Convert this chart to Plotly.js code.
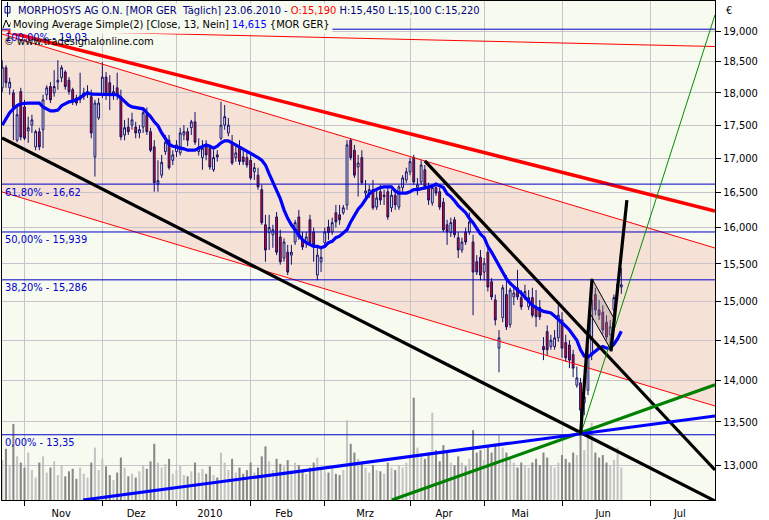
<!DOCTYPE html>
<html><head><meta charset="utf-8">
<script src="https://cdn.plot.ly/plotly-3.0.1.min.js"></script>
<style>html,body{margin:0;padding:0;background:#fff;}#chart{width:769px;height:520px;}</style>
</head><body><div id="chart"></div>
<script>
// ---- data (trading-day index 0 = 02.11.2009) ----
const firstDay = -6, lastDay = 161;
const open = [
18.08,18.40,18.08,18.00,17.27,18.02,
17.78,17.41,17.50,17.17,17.40,17.43,17.97,18.10,18.00,18.17,
18.24,18.33,18.20,18.05,17.92,17.90,17.94,17.97,17.94,17.02,
17.61,17.97,18.25,18.16,17.97,18.08,17.94,17.35,17.47,17.50,
17.47,17.38,17.47,17.66,17.40,17.17,16.62,16.75,17.10,17.27,
16.97,17.10,17.08,17.35,17.40,17.46,17.55,17.10,17.01,17.20,
17.15,16.83,17.05,17.30,17.50,17.38,17.23,17.01,17.15,17.02,
17.01,16.97,16.80,16.75,16.54,16.04,15.93,15.90,16.15,15.87,
15.58,15.66,15.62,15.80,16.15,15.83,15.79,16.11,15.94,15.35,
15.53,15.79,16.01,15.94,16.21,16.18,16.21,16.32,17.27,17.12,
16.87,17.01,16.49,16.49,16.54,16.29,16.51,16.44,16.51,16.28,
16.46,16.29,16.57,16.68,16.80,17.01,16.57,16.65,16.83,16.57,
16.35,16.57,16.51,16.36,16.04,15.93,16.11,15.86,15.69,15.94,
15.94,15.80,15.53,15.59,15.39,15.66,15.26,15.02,14.40,14.79,
15.09,14.70,15.06,15.18,15.05,15.06,14.93,15.05,14.93,14.92,
14.42,14.61,14.42,14.42,14.53,14.76,14.47,14.44,14.32,13.94,
13.97,13.73,13.88,14.31,15.09,14.89,14.86,14.73,14.57,14.89,
15.15,15.19];
const high = [
18.52,18.44,18.24,18.05,17.81,18.08,
17.89,17.63,17.66,17.43,17.46,17.97,18.12,18.17,18.36,18.52,
18.44,18.36,18.25,18.08,17.97,18.32,18.08,18.12,18.05,17.89,
17.92,18.49,18.33,18.28,18.12,18.32,18.05,17.58,17.61,17.69,
17.55,17.50,17.73,17.77,17.46,17.27,16.97,17.05,17.35,17.35,
17.12,17.27,17.46,17.50,17.46,17.58,17.70,17.30,17.27,17.27,
17.20,17.12,17.12,17.86,17.81,17.61,17.35,17.20,17.27,17.12,
17.12,17.05,16.93,16.86,16.61,16.18,16.18,16.04,16.22,15.97,
15.85,15.76,15.76,16.11,16.25,15.94,15.94,16.18,16.00,15.76,
15.73,16.00,16.11,16.14,16.32,16.32,16.32,17.27,17.30,17.20,
17.05,17.12,16.68,16.61,16.68,16.54,16.61,16.54,16.57,16.54,
16.54,16.61,16.75,16.86,17.01,17.05,16.71,16.97,16.90,16.64,
16.61,16.64,16.57,16.42,16.11,16.14,16.15,15.94,15.86,16.00,
16.21,15.90,15.62,15.69,15.58,15.72,15.31,15.09,14.63,15.22,
15.35,15.18,15.18,15.42,15.15,15.22,15.15,15.18,15.15,15.02,
14.54,14.69,14.57,14.63,14.95,14.86,14.57,14.50,14.38,14.17,
14.03,13.94,14.44,15.15,15.18,15.02,14.95,14.82,14.76,15.09,
15.31,15.45];
const low = [
18.01,18.08,17.97,17.27,17.24,17.27,
17.27,17.23,17.38,17.12,17.12,17.15,17.89,17.84,17.94,18.05,
18.17,18.05,17.97,17.81,17.80,17.84,17.89,17.92,17.30,16.73,
17.58,17.92,17.89,17.73,17.89,17.89,17.27,17.27,17.35,17.43,
17.30,17.30,17.38,17.35,17.09,16.51,16.51,16.71,17.05,16.83,
16.90,17.02,17.04,17.27,17.18,17.35,17.20,17.04,16.83,16.97,
16.83,16.80,16.95,17.27,17.43,17.33,16.90,16.95,16.90,16.90,
16.86,16.68,16.68,16.54,16.04,15.53,15.69,15.72,15.62,15.49,
15.53,15.35,15.49,15.76,15.83,15.69,15.72,15.76,15.53,15.28,
15.39,15.73,15.83,15.90,16.00,16.04,16.18,16.25,16.97,16.71,
16.44,16.61,16.42,16.42,16.25,16.25,16.32,16.32,16.11,16.22,
16.25,16.25,16.51,16.64,16.75,16.61,16.46,16.61,16.54,16.32,
16.31,16.45,16.25,15.94,15.76,15.87,15.86,15.58,15.65,15.76,
15.90,14.82,15.35,15.28,15.28,15.13,15.02,14.69,14.10,14.73,
14.63,14.66,14.95,15.02,14.89,15.02,14.89,14.79,14.67,14.76,
14.25,14.31,14.38,14.38,14.48,14.28,14.23,14.15,14.04,13.91,
13.35,13.58,13.82,14.25,14.82,14.76,14.57,14.50,14.44,14.82,
15.02,15.10];
const close = [
18.41,18.16,18.17,17.77,17.66,17.32,
17.30,17.46,17.58,17.40,17.17,17.89,18.08,17.89,18.10,18.20,
18.40,18.10,18.02,17.86,17.84,17.95,18.00,18.02,17.38,17.84,
17.84,18.25,17.97,18.00,18.02,17.97,17.32,17.46,17.40,17.58,
17.38,17.43,17.69,17.40,17.12,16.64,16.67,16.94,17.24,16.86,
17.05,17.20,17.38,17.40,17.27,17.55,17.24,17.17,17.15,17.05,
16.87,17.01,17.02,17.50,17.63,17.50,16.93,17.08,16.95,16.95,
16.90,16.71,16.86,16.58,16.07,15.69,16.00,15.97,15.66,15.53,
15.80,15.39,15.66,16.07,15.87,15.73,15.87,15.79,15.76,15.62,
15.59,15.94,15.93,16.07,16.08,16.11,16.28,17.20,17.01,16.75,
16.93,16.64,16.52,16.54,16.28,16.42,16.39,16.46,16.15,16.46,
16.32,16.58,16.71,16.80,16.95,16.65,16.61,16.90,16.58,16.39,
16.57,16.49,16.29,15.97,15.94,16.07,15.90,15.69,15.80,15.80,
16.08,15.39,15.39,15.35,15.51,15.19,15.06,14.76,14.53,15.18,
14.67,15.15,15.11,15.06,14.93,15.13,15.05,14.82,14.80,14.80,
14.38,14.38,14.50,14.53,14.82,14.40,14.28,14.25,14.15,14.03,
13.64,13.80,14.31,15.02,14.89,14.82,14.63,14.54,14.67,15.05,
15.23,15.22];
const ma13 = [
17.50,17.59,17.69,17.75,17.80,17.83,
17.84,17.84,17.84,17.84,17.84,17.78,17.75,17.72,17.72,17.73,
17.80,17.83,17.86,17.87,17.89,17.92,17.97,18.00,17.98,17.98,
17.98,17.98,17.98,17.98,17.98,17.97,17.92,17.86,17.81,17.78,
17.77,17.77,17.75,17.69,17.63,17.55,17.49,17.38,17.29,17.21,
17.18,17.17,17.15,17.14,17.12,17.12,17.12,17.15,17.17,17.20,
17.18,17.15,17.18,17.23,17.26,17.26,17.23,17.20,17.17,17.14,
17.11,17.08,17.04,17.01,16.97,16.90,16.77,16.64,16.52,16.41,
16.25,16.13,16.04,15.97,15.90,15.83,15.79,15.76,15.74,15.74,
15.72,15.74,15.79,15.81,15.86,15.88,15.93,15.97,16.08,16.18,
16.26,16.32,16.41,16.48,16.52,16.55,16.57,16.58,16.58,16.58,
16.52,16.49,16.49,16.49,16.51,16.54,16.54,16.55,16.57,16.58,
16.59,16.62,16.59,16.57,16.48,16.44,16.38,16.31,16.26,16.21,
16.13,16.07,15.99,15.91,15.86,15.74,15.66,15.57,15.47,15.37,
15.30,15.24,15.19,15.15,15.11,15.06,15.01,14.95,14.92,14.89,
14.87,14.86,14.85,14.81,14.77,14.73,14.68,14.63,14.57,14.50,
14.38,14.30,14.29,14.33,14.37,14.40,14.42,14.40,14.40,14.45,
14.52,14.615];
const volume = [ // thousand shares
320,410,280,610,350,300,
260,380,240,180,300,350,220,260,310,200,
280,190,230,250,170,260,210,180,300,420,
240,330,270,200,160,220,340,260,190,210,
180,230,280,250,310,450,300,260,290,330,
210,240,280,200,190,230,300,220,250,210,
270,200,180,380,300,240,330,220,260,210,
240,300,220,260,350,430,310,240,330,290,
270,320,240,300,280,230,210,260,300,340,
250,230,220,260,210,200,240,640,450,380,
330,300,260,220,280,240,230,210,300,260,
240,280,260,300,350,820,420,360,330,380,
700,400,310,440,380,300,280,350,300,270,
330,560,380,400,320,430,380,450,520,420,
380,330,300,260,300,280,260,300,330,280,
380,340,280,260,300,360,330,300,380,360,
540,400,560,620,380,340,360,300,280,320,
420,260];

// axis ticks
const monthStart = [0,21,41,61,81,104,124,145,169];
const monthLabelPos = [9.9,30.1,50.0,70.0,91.9,113.2,133.7,156.1,176.8];
const monthLabels = ['Nov','Dez','2010','Feb','Mrz','Apr','Mai','Jun','Jul'];
const priceTicks = [13,13.5,14,14.5,15,15.5,16,16.5,17,17.5,18,18.5,19];

// Fibonacci retracement
const fibLevels = [19.03,16.62,15.939,15.286,13.35];
const fibLabels = ['100,00% - 19,03','61,80% - 16,62','50,00% - 15,939','38,20% - 15,286','0,00% - 13,35'];

// drawn objects: [day index], [price]
const xMin = -6.07, xMax = 186.27;
const redTopX = [xMin,xMax], redTopY = [19.017,18.744];
const redThickX = [-4.45,xMax], redThickY = [18.983,16.234];
const chanUpX = [xMin,xMax], chanUpY = [18.950,15.717];
const chanLoX = [xMin,xMax], chanLoY = [16.506,13.690];
const blackLongX = [xMin,xMax], blackLongY = [17.303,12.599];
const blackDownX = [108,xMax], blackDownY = [16.96,12.945];
const poleX = [150,153.1], poleY = [13.35,15.30];
const flagX = [153.1,159.0,158.2,152.5,153.1], flagY = [15.30,14.78,14.38,14.85,15.30];
const breakX = [158.2,162.5], breakY = [14.36,16.39];
const greenThinX = [150,xMax], greenThinY = [13.35,19.27];
const greenThickX = [99.1,xMax], greenThickY = [12.61,13.945];
const blueThickX = [15.78,xMax], blueThickY = [12.61,13.571];

// ---- build ----
const days = []; for (let i = firstDay; i <= lastDay; i++) days.push(i);
const volColors = days.map((d,k) => close[k] >= open[k] ? '#c4c4c4' : '#878787');

const FONT = "'DejaVu Sans Condensed','DejaVu Sans',sans-serif";
const GRID = '#cbc3cb';
const BG = '#f7faef';
const L = 2, R = 715, T = 1, B = 500;
const px = v => (v - L) / (R - L);
const py = v => (B - v) / (B - T);

function line(x, y, color, width, extra) {
  return Object.assign({type:'scatter', mode:'lines', x:x, y:y, xaxis:'x', yaxis:'y2',
    line:{color:color, width:width}, hoverinfo:'skip'}, extra || {});
}

const traces = [
  {type:'bar', x:days, y:volume, xaxis:'x', yaxis:'y', width:0.55,
   marker:{color:volColors, line:{width:0}}, hoverinfo:'skip'},
  {type:'candlestick', x:days, open:open, high:high, low:low, close:close, xaxis:'x', yaxis:'y2',
   increasing:{line:{color:'#10106a', width:1}, fillcolor:'#ffffff'},
   decreasing:{line:{color:'#10106a', width:1}, fillcolor:'#f00000'},
   whiskerwidth:0, hoverinfo:'skip'},
  line(redTopX, redTopY, '#ff0000', 1),
  line(chanUpX, chanUpY, '#ff0000', 1),
  line(chanLoX, chanLoY, '#ff0000', 1),
  line(redThickX, redThickY, '#ff0000', 3.5),
];
fibLevels.forEach(v => traces.push(line([xMin,xMax],[v,v],'#0000c8',1)));
traces.push(
  {type:'scatter', mode:'lines', x:days, y:ma13, xaxis:'x', yaxis:'y2', line:{color:'#0000ff', width:3.2}, hoverinfo:'skip'},
  line(blackLongX, blackLongY, '#000000', 3.2),
  line(blackDownX, blackDownY, '#000000', 3.2),
  line(greenThickX, greenThickY, '#008000', 3.2),
  line(blueThickX, blueThickY, '#0000ff', 3.2),
  line(greenThinX, greenThinY, '#009000', 1),
  line(flagX, flagY, '#000000', 1, {fill:'toself', fillcolor:'rgba(160,140,140,0.35)'}),
  line(poleX, poleY, '#000000', 3.2),
  line(breakX, breakY, '#000000', 3.2)
);

const fmt = v => v.toFixed(3).replace('.', ',');
const n = close.length - 1;
const line1 = 'MORPHOSYS AG O.N. [MOR GER\u00a0\u00a0Täglich] 23.06.2010 - <span style="color:#ff0000">O:' + fmt(open[n]) +
  '</span> H:' + fmt(high[n]) + ' L:' + fmt(low[n]) + ' C:' + fmt(close[n]);
const line2 = 'Moving Average Simple(2) [Close, 13, Nein] <span style="color:#0000ff">' + fmt(ma13[n]) + '</span> {MOR GER}';

const annotations = [
  {xref:'paper', yref:'paper', x:px(17), y:py(10), xanchor:'left', yanchor:'middle', showarrow:false,
   text:line1, font:{family:FONT, size:11, color:'#000080'}, bgcolor:BG, borderpad:0},
  {xref:'paper', yref:'paper', x:px(10), y:py(24), xanchor:'left', yanchor:'middle', showarrow:false,
   text:line2, font:{family:FONT, size:11, color:'#000000'}, bgcolor:BG, borderpad:2},
  {xref:'paper', yref:'paper', x:px(724), y:py(10), xanchor:'left', yanchor:'middle', showarrow:false,
   text:'€', font:{family:FONT, size:11, color:'#000000'}},
];
fibLevels.forEach((v,k) => annotations.push({xref:'paper', yref:'y2', x:px(3), y:Math.log10(v), yshift:-8,
  xanchor:'left', yanchor:'middle', showarrow:false, text:fibLabels[k], font:{family:FONT, size:11, color:'#0000d0'}}));
annotations.push({xref:'paper', yref:'paper', x:px(2), y:py(42), xanchor:'left', yanchor:'middle', showarrow:false,
   text:'© www.tradesignalonline.com', font:{family:FONT, size:11, color:'#000000'}});

const shapes = [
  {type:'path', xref:'x', yref:'y2', layer:'below',
   path:'M' + chanUpX[0] + ',' + chanUpY[0] + ' L' + chanUpX[1] + ',' + chanUpY[1] +
        ' L' + chanLoX[1] + ',' + chanLoY[1] + ' L' + chanLoX[0] + ',' + chanLoY[0] + ' Z',
   fillcolor:'#f6e1d7', line:{width:0}},
  // legend icons
  {type:'line', xref:'paper', yref:'paper', x0:px(7.5), x1:px(7.5), y0:py(2), y1:py(17), line:{color:'#000080', width:1}},
  {type:'rect', xref:'paper', yref:'paper', x0:px(5), x1:px(10), y0:py(6.5), y1:py(13), line:{color:'#000080', width:1}, fillcolor:'rgba(0,0,0,0)'},
  {type:'path', xref:'paper', yref:'paper',
   path:'M'+px(3)+','+py(28)+' L'+px(6)+','+py(20)+' L'+px(9)+','+py(27)+' L'+px(12)+','+py(20),
   line:{color:'#000000', width:1}},
];

const layout = {
  width:769, height:520,
  margin:{l:L, r:769-R, t:T, b:520-B, pad:0},
  paper_bgcolor:'#ffffff', plot_bgcolor:BG,
  separators:',.', showlegend:false, hovermode:false,
  font:{family:FONT, size:11, color:'#000000'},
  xaxis:{type:'linear', range:[xMin,xMax], fixedrange:true, zeroline:false,
    tickmode:'array', tickvals:monthLabelPos, ticktext:monthLabels, ticks:'', showgrid:false,
    ticklabelstandoff:3,
    tickfont:{family:FONT, size:11, color:'#000'},
    minor:{tickmode:'array', tickvals:monthStart, ticks:'outside', ticklen:5, tickcolor:'#000', tickwidth:1,
           showgrid:true, gridcolor:GRID, gridwidth:1},
    showline:true, linecolor:'#000', linewidth:1, mirror:true,
    rangeslider:{visible:false}},
  yaxis:{range:[0,4000], visible:false, fixedrange:true},
  yaxis2:{overlaying:'y', side:'right', anchor:'x', type:'log',
    range:[Math.log10(12.610), Math.log10(19.505)], fixedrange:true,
    tickmode:'array', tickvals:priceTicks, tickformat:'.3f',
    ticks:'outside', ticklen:5, tickcolor:'#000', tickwidth:1,
    tickfont:{family:FONT, size:11, color:'#000'},
    showgrid:true, gridcolor:GRID, gridwidth:1, zeroline:false,
    showline:true, linecolor:'#000', linewidth:1, mirror:true},
  shapes:shapes, annotations:annotations
};

Plotly.newPlot('chart', traces, layout, {staticPlot:true, displayModeBar:false});
</script>
</body></html>
